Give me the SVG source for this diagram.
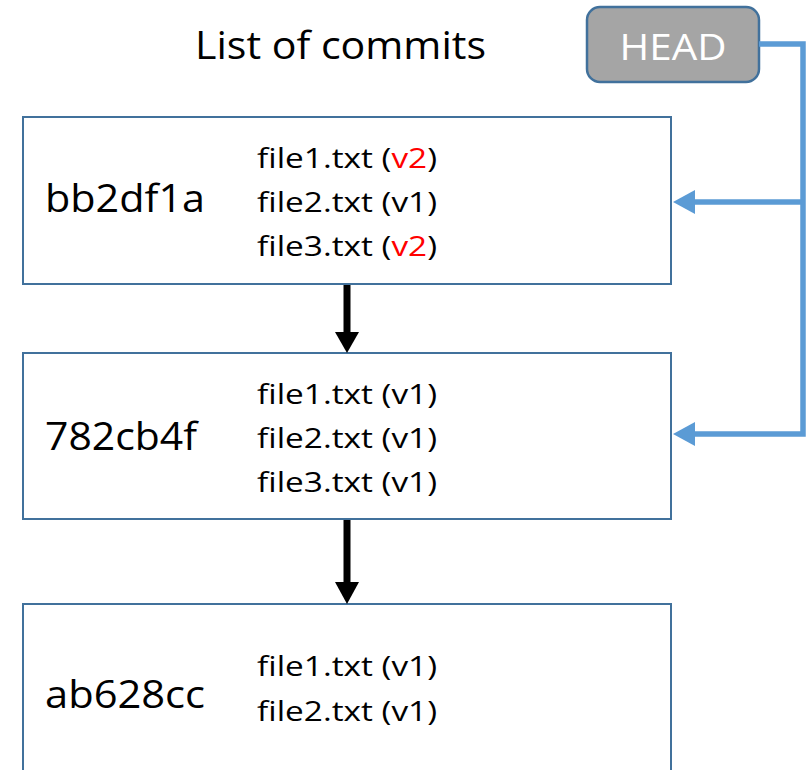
<svg xmlns="http://www.w3.org/2000/svg" width="806" height="770" viewBox="0 0 806 770">
<style>
.box{fill:#fff;stroke:#41719c;stroke-width:2}
.t{font-family:"Open Sans","Noto Sans",sans-serif;fill:#000}
.hash{font-size:39px}
.file{font-size:28px}
.red{fill:#ff0000}
.blue{stroke:#5b9bd5;stroke-width:5.5;fill:none}
</style>
<rect width="806" height="770" fill="#fff"/>
<text class="t" x="195" y="59" font-size="39" textLength="291" lengthAdjust="spacingAndGlyphs">List of commits</text>
<g id="head">
<rect x="587" y="7" width="172" height="75" rx="13" fill="#a5a5a5" stroke="#41719c" stroke-width="2.5"/>
<text x="673" y="60" font-family="Open Sans,Noto Sans,sans-serif" font-size="37" fill="#fff" text-anchor="middle" textLength="107" lengthAdjust="spacingAndGlyphs">HEAD</text>
</g>
<g id="commit-bb2df1a">
<rect class="box" x="23" y="117" width="648" height="167"/>
<text class="t hash" x="45" y="212" textLength="160" lengthAdjust="spacingAndGlyphs">bb2df1a</text>
<text class="t file" x="257" y="168" textLength="180" lengthAdjust="spacingAndGlyphs">file1.txt (<tspan class="red">v2</tspan>)</text>
<text class="t file" x="257" y="212" textLength="180" lengthAdjust="spacingAndGlyphs">file2.txt (v1)</text>
<text class="t file" x="257" y="256" textLength="180" lengthAdjust="spacingAndGlyphs">file3.txt (<tspan class="red">v2</tspan>)</text>
</g>
<g id="commit-782cb4f">
<rect class="box" x="23" y="353" width="648" height="166"/>
<text class="t hash" x="45" y="450" textLength="152" lengthAdjust="spacingAndGlyphs">782cb4f</text>
<text class="t file" x="257" y="404" textLength="180" lengthAdjust="spacingAndGlyphs">file1.txt (v1)</text>
<text class="t file" x="257" y="448" textLength="180" lengthAdjust="spacingAndGlyphs">file2.txt (v1)</text>
<text class="t file" x="257" y="492" textLength="180" lengthAdjust="spacingAndGlyphs">file3.txt (v1)</text>
</g>
<g id="commit-ab628cc">
<rect class="box" x="23" y="604" width="648" height="180"/>
<text class="t hash" x="45" y="708" textLength="160" lengthAdjust="spacingAndGlyphs">ab628cc</text>
<text class="t file" x="257" y="676" textLength="180" lengthAdjust="spacingAndGlyphs">file1.txt (v1)</text>
<text class="t file" x="257" y="721" textLength="180" lengthAdjust="spacingAndGlyphs">file2.txt (v1)</text>
</g>
<g id="connectors">
<line x1="347" y1="285" x2="347" y2="334" stroke="#000" stroke-width="7"/>
<polygon points="335,332 359,332 347,353" fill="#000"/>
<line x1="347" y1="520" x2="347" y2="584" stroke="#000" stroke-width="7"/>
<polygon points="335,582 359,582 347,604" fill="#000"/>
<polyline class="blue" points="759,44 803,44 803,434 694,434"/>
<line class="blue" x1="803" y1="202" x2="694" y2="202"/>
<polygon points="673,202 695,190 695,214" fill="#5b9bd5"/>
<polygon points="673,434 695,422 695,446" fill="#5b9bd5"/>
</g>
</svg>
